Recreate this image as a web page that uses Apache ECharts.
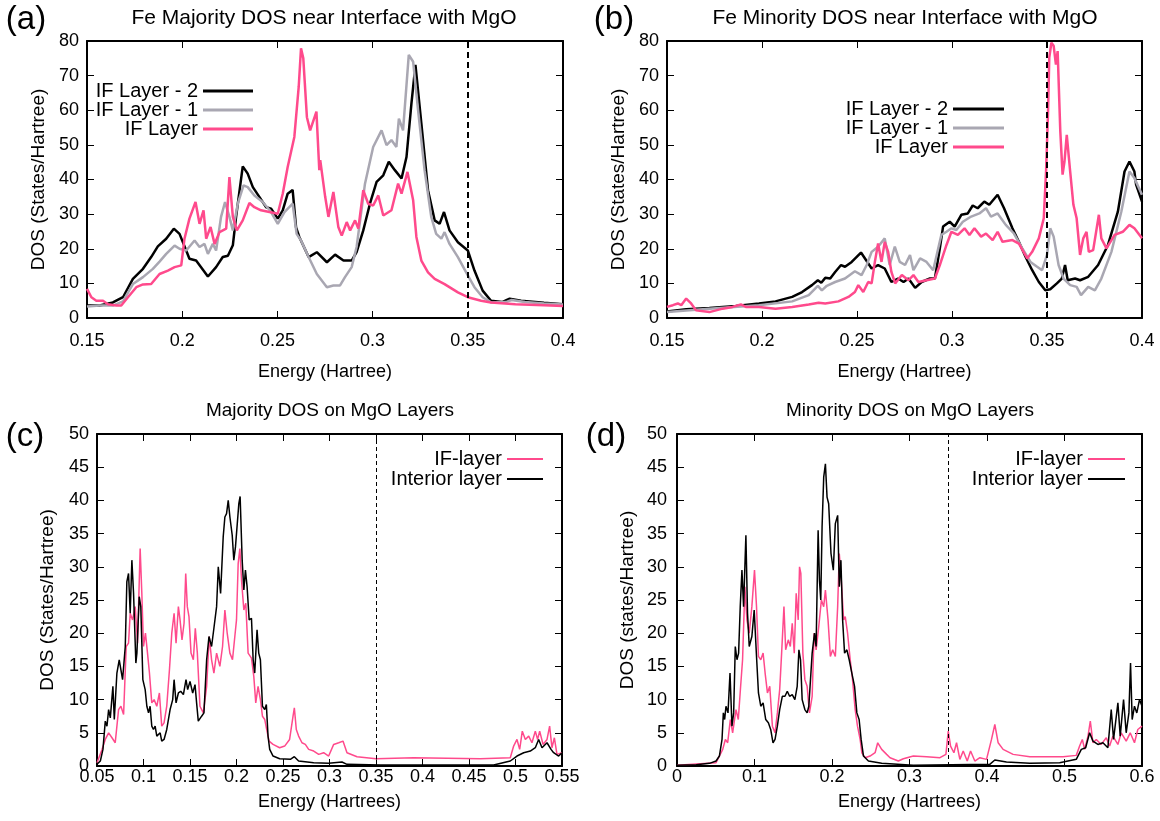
<!DOCTYPE html>
<html>
<head>
<meta charset="utf-8">
<script src="https://cdn.jsdelivr.net/npm/echarts@6/dist/echarts.min.js"></script>
<style>
html,body{margin:0;padding:0;background:#fff}
#chart{width:1160px;height:821px}
</style>
</head>
<body>
<div id="chart"></div>
<script>
const FONT = '"Liberation Sans", Arial, Helvetica, sans-serif';

// ---- (a) Fe majority DOS near the MgO interface: [energy (Ha), DOS] ----
const feMajLayer2 = [[0.15,3.6],[0.1566,3.6],[0.1636,4.5],[0.1689,6.0],[0.1741,11.3],[0.1794,14.2],[0.1837,17.6],[0.1872,20.7],[0.1916,22.9],[0.1956,25.8],[0.1986,24.3],[0.2021,19.5],[0.2038,17.1],[0.2073,16.6],[0.2135,12.0],[0.2178,14.7],[0.2213,17.6],[0.224,18.0],[0.2266,21.0],[0.2283,29.2],[0.2318,43.8],[0.2344,41.7],[0.2371,37.8],[0.2406,34.9],[0.2441,32.0],[0.2467,31.6],[0.2502,28.7],[0.2528,31.1],[0.2554,35.9],[0.258,37.0],[0.2598,26.2],[0.2615,23.4],[0.2664,17.6],[0.2707,19.0],[0.276,16.1],[0.2803,18.3],[0.2847,16.6],[0.289,16.6],[0.2916,19.0],[0.2951,25.3],[0.2986,33.0],[0.3021,39.3],[0.3056,41.2],[0.3085,45.1],[0.3117,42.7],[0.3152,40.3],[0.3178,46.5],[0.3204,62.0],[0.3225,73.1],[0.3256,56.2],[0.3291,36.9],[0.3326,28.2],[0.3352,27.2],[0.3375,30.6],[0.3404,25.3],[0.3448,21.9],[0.35,19.5],[0.3535,13.7],[0.3578,7.9],[0.3622,5.0],[0.368,4.6],[0.372,5.6],[0.378,5.0],[0.39,4.4],[0.4,4.0]];
const feMajLayer1 = [[0.15,3.3],[0.1566,3.6],[0.1636,3.6],[0.1689,4.8],[0.1741,9.8],[0.1794,11.8],[0.1846,14.2],[0.1881,16.3],[0.1916,18.5],[0.196,20.9],[0.1986,20.0],[0.2021,19.5],[0.2065,22.4],[0.2091,20.5],[0.2117,21.4],[0.2135,18.5],[0.2161,21.4],[0.2178,19.5],[0.2204,29.2],[0.2225,33.5],[0.2248,29.2],[0.2266,25.3],[0.2292,33.0],[0.2322,38.3],[0.2344,37.8],[0.2379,35.4],[0.2423,33.5],[0.2467,30.6],[0.2502,27.2],[0.2537,30.6],[0.258,33.0],[0.2601,24.3],[0.2624,22.4],[0.2664,17.6],[0.2707,12.7],[0.276,8.9],[0.2794,9.4],[0.2829,9.4],[0.2855,11.8],[0.289,14.7],[0.2916,20.5],[0.296,38.8],[0.3003,49.4],[0.3047,54.2],[0.3073,49.9],[0.3099,51.4],[0.3125,49.4],[0.3138,57.6],[0.316,54.2],[0.319,76.0],[0.3213,74.0],[0.3239,60.0],[0.3273,42.7],[0.3308,29.2],[0.3334,24.3],[0.3361,22.9],[0.3378,24.8],[0.3404,21.4],[0.3448,17.6],[0.35,12.3],[0.3535,8.9],[0.3578,6.0],[0.3622,4.5],[0.37,4.6],[0.373,5.2],[0.38,4.6],[0.39,4.2],[0.4,3.9]];
const feMajIF = [[0.15,8.4],[0.1523,6.0],[0.1549,5.0],[0.1584,5.0],[0.161,4.0],[0.1654,3.6],[0.168,3.6],[0.1715,6.0],[0.1759,8.9],[0.1794,9.7],[0.1837,9.8],[0.1881,12.7],[0.1925,13.7],[0.196,14.7],[0.1995,15.2],[0.2012,22.9],[0.2038,28.7],[0.207,33.5],[0.2091,27.2],[0.2112,31.1],[0.2126,22.9],[0.2149,26.3],[0.217,21.4],[0.2196,24.8],[0.2231,25.8],[0.2248,40.7],[0.2266,29.2],[0.2287,25.3],[0.2318,28.2],[0.2353,33.2],[0.2379,32.0],[0.2414,31.1],[0.2458,30.6],[0.2502,30.1],[0.2528,35.9],[0.2554,43.6],[0.2589,52.3],[0.2612,66.8],[0.2624,77.9],[0.2636,75.0],[0.2655,58.0],[0.2672,54.2],[0.2705,59.6],[0.272,42.7],[0.2725,45.6],[0.2751,35.0],[0.2768,29.2],[0.2794,36.4],[0.282,26.3],[0.2838,23.8],[0.2864,27.7],[0.2882,25.3],[0.2908,28.2],[0.2925,25.8],[0.2951,36.9],[0.2977,33.0],[0.3003,32.5],[0.303,35.4],[0.3056,29.6],[0.3099,31.1],[0.3134,38.8],[0.3152,35.9],[0.3183,42.2],[0.3213,34.0],[0.323,23.4],[0.3256,16.6],[0.3291,13.2],[0.3326,11.3],[0.3378,9.8],[0.3448,7.4],[0.35,6.0],[0.357,5.0],[0.3622,4.5],[0.375,4.0],[0.39,3.7],[0.4,3.5]];

// ---- (b) Fe minority DOS near the MgO interface ----
const feMinLayer2 = [[0.15,1.9],[0.1601,2.5],[0.1723,2.9],[0.1862,3.5],[0.1984,4.2],[0.2071,4.8],[0.2159,6.1],[0.2211,7.5],[0.2263,9.5],[0.2294,10.9],[0.2312,10.2],[0.2333,11.6],[0.2359,11.4],[0.2385,13.3],[0.2416,15.3],[0.2437,14.8],[0.2472,16.2],[0.2521,18.9],[0.2542,17.2],[0.2577,14.3],[0.2611,15.3],[0.2646,14.3],[0.2681,10.4],[0.2716,11.4],[0.2745,10.4],[0.2771,11.4],[0.2806,8.7],[0.284,10.4],[0.2884,11.4],[0.291,11.4],[0.2936,20.1],[0.2953,26.4],[0.2988,27.8],[0.3014,26.4],[0.3049,29.8],[0.3083,30.2],[0.3109,32.5],[0.3135,31.7],[0.317,33.6],[0.3196,32.7],[0.324,35.6],[0.3274,31.7],[0.3318,25.9],[0.3352,22.0],[0.3387,17.7],[0.3422,13.8],[0.3457,10.4],[0.3491,8.0],[0.3517,8.3],[0.3552,10.0],[0.3578,11.4],[0.3595,15.3],[0.3609,10.9],[0.3648,11.4],[0.3674,10.9],[0.3717,11.9],[0.3769,15.3],[0.3821,21.1],[0.3873,30.7],[0.3908,42.3],[0.3934,45.2],[0.396,42.3],[0.3969,38.5],[0.4,33.6]];
const feMinLayer1 = [[0.15,1.7],[0.1601,2.2],[0.1723,2.7],[0.1984,3.7],[0.2159,4.8],[0.2246,6.6],[0.2294,9.3],[0.2315,8.0],[0.2341,9.3],[0.2385,10.4],[0.2437,11.4],[0.2489,13.5],[0.2524,12.4],[0.2551,15.3],[0.2577,19.1],[0.2611,20.6],[0.2646,23.0],[0.2672,15.3],[0.2699,20.6],[0.2725,16.2],[0.2753,15.3],[0.2779,18.2],[0.2797,13.8],[0.2832,17.2],[0.2866,16.2],[0.2901,13.8],[0.2944,24.0],[0.2971,24.9],[0.2997,25.9],[0.3023,25.4],[0.3057,27.8],[0.3101,29.3],[0.3144,30.2],[0.3179,31.7],[0.3205,29.3],[0.324,30.2],[0.3283,26.9],[0.3326,24.4],[0.337,20.1],[0.3413,16.2],[0.3448,14.8],[0.3474,13.8],[0.35,18.2],[0.3517,25.9],[0.3535,23.5],[0.3561,15.3],[0.3587,11.4],[0.3622,9.5],[0.3656,9.0],[0.3679,6.6],[0.3717,9.0],[0.3752,8.0],[0.3786,11.4],[0.3839,19.1],[0.3891,30.7],[0.3934,42.3],[0.396,40.4],[0.4,35.6]];
const feMinIF = [[0.15,3.2],[0.1531,3.7],[0.1557,4.2],[0.1575,3.7],[0.1601,5.6],[0.1627,4.2],[0.1653,2.2],[0.1723,1.7],[0.1793,2.7],[0.1845,3.2],[0.1889,3.9],[0.1915,3.2],[0.1984,3.2],[0.2071,2.7],[0.2159,3.2],[0.2246,3.9],[0.2298,4.4],[0.2333,4.2],[0.2402,4.8],[0.2455,6.1],[0.2489,7.5],[0.2507,9.5],[0.2533,7.5],[0.2559,10.4],[0.2577,10.0],[0.2594,16.2],[0.2611,21.5],[0.2629,16.2],[0.2646,22.0],[0.2664,19.1],[0.2681,13.3],[0.2701,10.0],[0.2736,12.4],[0.2771,10.9],[0.2797,12.4],[0.2823,10.4],[0.2866,10.9],[0.291,11.4],[0.2936,15.3],[0.2971,21.1],[0.2997,24.9],[0.3031,24.0],[0.3066,25.9],[0.3092,24.0],[0.3118,25.9],[0.3153,23.5],[0.3179,24.4],[0.3214,22.5],[0.324,24.9],[0.3266,22.0],[0.3318,22.5],[0.3352,21.5],[0.3396,17.2],[0.3422,19.1],[0.3457,23.0],[0.3483,28.8],[0.3495,42.3],[0.3505,58.7],[0.3512,75.2],[0.3523,79.5],[0.3535,78.6],[0.3547,73.2],[0.3556,77.1],[0.357,53.9],[0.3582,41.4],[0.3592,45.2],[0.3604,52.9],[0.3622,42.3],[0.3639,32.7],[0.3656,28.8],[0.3674,18.2],[0.3691,23.0],[0.3708,24.9],[0.372,19.1],[0.3743,19.6],[0.3773,29.8],[0.3786,23.0],[0.3813,20.1],[0.3856,24.0],[0.3899,24.9],[0.3934,26.9],[0.396,25.9],[0.4,23.0]];

// ---- (c) majority DOS on the MgO layers ----
const mgoMajIF = [[0.05,0.5],[0.0554,2.5],[0.0589,4.0],[0.0625,5.0],[0.0661,4.25],[0.0696,3.5],[0.0732,8.5],[0.0757,9.0],[0.0786,7.75],[0.0814,18.0],[0.0839,18.5],[0.0857,23.0],[0.0882,22.0],[0.0911,24.0],[0.0936,18.5],[0.0964,32.75],[0.0982,26.0],[0.1,18.0],[0.1021,20.0],[0.1043,17.0],[0.1064,14.0],[0.1089,9.5],[0.1114,10.0],[0.1143,9.0],[0.1171,11.0],[0.1196,6.0],[0.1221,6.5],[0.125,9.0],[0.1279,14.5],[0.1304,20.0],[0.1329,23.0],[0.135,18.5],[0.1375,24.0],[0.1393,22.0],[0.1414,19.0],[0.1436,21.5],[0.1454,29.0],[0.1471,24.0],[0.1489,22.5],[0.1511,17.0],[0.1536,16.0],[0.1557,20.75],[0.1579,17.0],[0.1607,9.0],[0.1643,8.0],[0.1679,12.0],[0.1707,19.5],[0.1732,16.0],[0.1757,14.0],[0.1786,17.0],[0.1821,15.0],[0.185,18.0],[0.1875,23.5],[0.19,20.0],[0.1929,17.0],[0.1957,16.0],[0.1982,19.5],[0.2,22.0],[0.2018,30.5],[0.2036,32.75],[0.2054,28.0],[0.2079,23.5],[0.21,24.5],[0.2125,17.0],[0.2161,16.25],[0.2186,13.5],[0.2207,9.5],[0.2232,12.0],[0.2257,10.0],[0.2279,7.5],[0.2304,7.0],[0.2321,5.75],[0.235,3.75],[0.2393,3.25],[0.2464,2.75],[0.2518,3.0],[0.2571,4.0],[0.2608,7.5],[0.2622,8.75],[0.2643,5.5],[0.2668,4.5],[0.2704,3.5],[0.274,3.25],[0.2776,2.5],[0.283,2.25],[0.2884,1.75],[0.2937,2.0],[0.2991,1.5],[0.3045,3.25],[0.3099,3.5],[0.3145,3.75],[0.3188,2.0],[0.3296,1.4],[0.35,1.1],[0.3905,1.25],[0.4622,1.1],[0.4944,1.25],[0.498,3.0],[0.5016,4.0],[0.5045,2.5],[0.5073,5.25],[0.5106,4.0],[0.5142,4.5],[0.5177,3.5],[0.5213,5.25],[0.5238,4.0],[0.526,5.25],[0.5296,3.25],[0.5339,4.0],[0.5367,6.0],[0.5392,2.75],[0.5418,4.25],[0.5446,1.75],[0.55,2.0]];
const mgoMajInterior = [[0.05,0.25],[0.0536,0.75],[0.0564,2.5],[0.0589,6.75],[0.0607,6.0],[0.0625,8.5],[0.0643,7.25],[0.0671,12.0],[0.0686,7.0],[0.0714,14.0],[0.0739,16.0],[0.0775,13.0],[0.0804,18.0],[0.0821,27.75],[0.0839,29.0],[0.0857,23.0],[0.0875,31.0],[0.0893,26.0],[0.0918,15.5],[0.0929,17.0],[0.0954,25.5],[0.0971,24.0],[0.0993,13.0],[0.1018,11.5],[0.1036,9.0],[0.1054,8.0],[0.1071,9.0],[0.1089,6.0],[0.1107,5.5],[0.1125,6.0],[0.1143,4.5],[0.1179,5.0],[0.1196,3.75],[0.1221,4.0],[0.125,5.5],[0.1286,8.5],[0.1314,10.0],[0.1329,13.0],[0.135,9.5],[0.1375,11.0],[0.14,11.25],[0.1429,10.75],[0.1457,13.0],[0.1475,11.5],[0.15,12.75],[0.1529,11.0],[0.1554,12.25],[0.1571,9.5],[0.1589,6.75],[0.1625,7.5],[0.165,8.0],[0.1679,16.0],[0.1704,19.5],[0.1732,18.0],[0.1757,20.75],[0.1786,24.0],[0.1804,30.0],[0.1829,26.0],[0.1857,34.5],[0.1875,37.5],[0.1893,38.0],[0.1911,40.0],[0.1929,37.5],[0.1954,34.75],[0.1971,31.0],[0.1989,33.0],[0.2007,33.0],[0.2025,39.5],[0.2039,40.6],[0.2061,31.0],[0.2079,26.5],[0.2096,29.5],[0.2114,27.0],[0.2136,22.0],[0.2161,22.25],[0.2179,16.0],[0.2196,14.0],[0.2221,20.5],[0.2239,17.0],[0.2257,16.0],[0.2279,9.0],[0.2304,8.5],[0.2321,9.25],[0.2339,4.5],[0.2357,2.5],[0.2393,1.5],[0.2464,1.1],[0.2579,1.0],[0.2622,1.4],[0.2668,0.75],[0.283,0.5],[0.2991,0.4],[0.3134,0.6],[0.3188,0.25],[0.3547,0.15],[0.4765,0.15],[0.4944,0.75],[0.5016,1.5],[0.5088,2.0],[0.5159,2.25],[0.5213,2.75],[0.5249,4.0],[0.5285,2.75],[0.5339,3.5],[0.5382,2.5],[0.541,2.0],[0.5464,1.5],[0.55,2.0]];

// ---- (d) minority DOS on the MgO layers ----
const mgoMinIF = [[0,0.1],[0.0504,0.5],[0.059,2.5],[0.0624,4.0],[0.0654,3.5],[0.0688,7.0],[0.0718,5.0],[0.0761,8.5],[0.0791,7.0],[0.0821,12.0],[0.0846,16.0],[0.0876,27.0],[0.0902,22.0],[0.0932,20.0],[0.0966,24.0],[0.1,29.5],[0.1026,24.0],[0.1051,16.5],[0.1081,16.0],[0.1111,17.0],[0.1137,14.0],[0.1167,11.0],[0.1197,12.0],[0.1231,6.0],[0.1265,5.0],[0.1295,8.0],[0.1325,11.5],[0.135,17.0],[0.138,24.0],[0.1402,17.5],[0.1436,19.0],[0.1462,18.0],[0.1487,21.5],[0.1513,17.0],[0.1538,26.0],[0.1564,22.0],[0.1581,30.0],[0.1598,29.0],[0.1624,17.0],[0.165,13.0],[0.1679,12.0],[0.1709,8.0],[0.1744,10.5],[0.1769,20.0],[0.1795,17.5],[0.1829,21.0],[0.1863,25.0],[0.1893,24.0],[0.1915,26.5],[0.1949,22.0],[0.1979,16.5],[0.2009,17.5],[0.2043,16.5],[0.2073,24.0],[0.2094,32.0],[0.212,28.0],[0.215,22.0],[0.2171,22.5],[0.2201,20.0],[0.2235,16.0],[0.2265,13.0],[0.2299,8.5],[0.2329,6.0],[0.2363,4.0],[0.2385,2.0],[0.2427,1.25],[0.2491,1.5],[0.2556,2.0],[0.259,3.5],[0.2641,2.5],[0.2705,1.75],[0.2749,1.25],[0.2856,0.75],[0.2921,1.1],[0.3049,1.5],[0.3221,1.4],[0.3393,1.25],[0.347,1.75],[0.35,5.25],[0.353,3.0],[0.3573,2.0],[0.3607,3.5],[0.365,1.0],[0.3693,2.25],[0.3745,0.75],[0.3788,2.25],[0.3843,0.75],[0.3908,1.25],[0.3994,1.0],[0.4058,4.0],[0.4101,6.25],[0.4144,3.5],[0.4208,2.5],[0.4337,1.75],[0.4552,1.4],[0.4981,1.4],[0.5152,1.6],[0.5195,3.0],[0.523,4.0],[0.526,2.5],[0.5303,4.5],[0.5333,6.75],[0.5367,3.5],[0.541,4.0],[0.5474,3.25],[0.5539,4.25],[0.5582,3.0],[0.5624,4.5],[0.5689,3.25],[0.5732,5.0],[0.5796,3.75],[0.5848,5.0],[0.5903,3.5],[0.5946,5.5],[0.6,6.0]];
const mgoMinInterior = [[0,0.1],[0.0248,0.2],[0.0419,0.4],[0.0504,0.75],[0.0547,1.5],[0.0581,4.0],[0.0598,8.0],[0.0615,7.0],[0.0632,9.0],[0.0658,8.0],[0.0684,14.0],[0.0709,6.0],[0.0731,8.0],[0.0752,18.0],[0.0774,16.0],[0.0795,17.0],[0.0816,24.0],[0.0838,29.5],[0.0859,24.0],[0.0889,34.75],[0.091,23.0],[0.0932,18.0],[0.0966,19.5],[0.0996,23.5],[0.1026,16.5],[0.1051,11.0],[0.1081,9.0],[0.1111,9.5],[0.1145,7.0],[0.1179,6.5],[0.1209,5.5],[0.1239,3.5],[0.1265,4.0],[0.1295,6.0],[0.1325,8.5],[0.1359,10.5],[0.1393,10.5],[0.1423,11.25],[0.1453,10.5],[0.1487,10.75],[0.1521,10.0],[0.1551,12.0],[0.1573,17.5],[0.1594,16.0],[0.1615,10.0],[0.165,8.5],[0.1679,8.0],[0.1701,9.0],[0.1722,9.0],[0.1744,17.0],[0.1774,20.0],[0.1795,18.0],[0.1821,35.5],[0.1838,28.0],[0.1855,25.0],[0.1872,36.0],[0.1893,43.5],[0.1915,45.5],[0.1936,40.5],[0.1957,39.5],[0.1987,32.0],[0.2017,29.5],[0.2043,36.5],[0.2073,37.75],[0.2094,27.0],[0.2115,31.0],[0.2137,22.0],[0.2162,17.0],[0.2192,17.5],[0.2222,16.0],[0.2256,14.0],[0.2291,12.0],[0.2321,8.0],[0.235,7.0],[0.2376,4.0],[0.2406,1.5],[0.247,0.75],[0.2641,0.4],[0.3049,0.1],[0.4036,0.25],[0.4101,0.9],[0.4251,0.6],[0.4552,0.4],[0.4938,0.5],[0.5152,1.0],[0.5217,2.5],[0.5273,2.75],[0.5324,5.0],[0.5367,3.75],[0.5431,3.25],[0.5496,3.5],[0.556,2.75],[0.5603,8.5],[0.5633,4.0],[0.5689,9.5],[0.5719,4.5],[0.5762,10.0],[0.5796,5.0],[0.5831,8.0],[0.5852,15.5],[0.5873,7.0],[0.5903,9.0],[0.5933,8.0],[0.5968,10.0],[0.6,9.0]];

// Fermi level marker (Ha) and axis ranges [min, max, step]
const fermiLevel = 0.35;
const feEnergyRange = [0.15, 0.4, 0.05];
const feDosRange = [0, 80, 10];
const mgoMajEnergyRange = [0.05, 0.55, 0.05];
const mgoMinEnergyRange = [0, 0.6, 0.1];
const mgoDosRange = [0, 50, 5];

const BLACK = '#000000';
const GRAY = '#a9a7b2';
const PINK = '#ff4a8c';

const chart = echarts.init(document.getElementById('chart'), null, {renderer: 'canvas'});

const grids = [
  {left: 87, right: 597, top: 41, bottom: 503, outerBoundsMode: 'none'},
  {left: 667, right: 18, top: 41, bottom: 503, outerBoundsMode: 'none'},
  {left: 97, right: 598, top: 434, bottom: 55, outerBoundsMode: 'none'},
  {left: 677, right: 18, top: 434, bottom: 55, outerBoundsMode: 'none'}
];

const fmt = v => String(Math.round(v * 1000) / 1000);
const xAxes = [];
const yAxes = [];

function addAxes(gi, xr, yr, xName, yName, o) {
  const tick = {show: true, inside: true, length: 7, lineStyle: {color: BLACK, width: 1}};
  const line = {show: true, onZero: false, lineStyle: {color: BLACK, width: 2}};
  const lbl = {color: BLACK, fontSize: 18, fontFamily: FONT, formatter: fmt};
  const xNameStyle = {color: BLACK, fontSize: 18, fontFamily: FONT};
  const yNameStyle = {color: BLACK, fontSize: 19, fontFamily: FONT};
  xAxes.push({type: 'value', gridIndex: gi, position: 'bottom', min: xr[0], max: xr[1], interval: xr[2],
    axisLine: line, axisTick: tick, splitLine: {show: false},
    axisLabel: Object.assign({margin: o.xMargin}, lbl),
    name: xName, nameLocation: 'middle', nameGap: o.xGap, nameTextStyle: xNameStyle});
  xAxes.push({type: 'value', gridIndex: gi, position: 'top', min: xr[0], max: xr[1], interval: xr[2],
    axisLine: line, axisTick: tick, splitLine: {show: false}, axisLabel: {show: false}});
  yAxes.push({type: 'value', gridIndex: gi, position: 'left', min: yr[0], max: yr[1], interval: yr[2],
    axisLine: line, axisTick: tick, splitLine: {show: false},
    axisLabel: Object.assign({margin: o.yMargin}, lbl),
    name: yName, nameLocation: 'middle', nameGap: o.yGap, nameTextStyle: yNameStyle});
  yAxes.push({type: 'value', gridIndex: gi, position: 'right', min: yr[0], max: yr[1], interval: yr[2],
    axisLine: line, axisTick: tick, splitLine: {show: false}, axisLabel: {show: false}});
}

addAxes(0, feEnergyRange, feDosRange, 'Energy (Hartree)', 'DOS (States/Hartree)', {xMargin: 14, xGap: 45, yMargin: 8, yGap: 39});
addAxes(1, feEnergyRange, feDosRange, 'Energy (Hartree)', 'DOS (States/Hartree)', {xMargin: 14, xGap: 45, yMargin: 8, yGap: 39});
addAxes(2, mgoMajEnergyRange, mgoDosRange, 'Energy (Hartrees)', 'DOS (States/Hartree)', {xMargin: 2, xGap: 27, yMargin: 8, yGap: 40});
addAxes(3, mgoMinEnergyRange, mgoDosRange, 'Energy (Hartrees)', 'DOS (states/Hartree)', {xMargin: 2, xGap: 27, yMargin: 10, yGap: 40});

function fermiMark(width, dash) {
  return {
    silent: true, symbol: ['none', 'none'], label: {show: false},
    lineStyle: {color: BLACK, width: width, type: dash},
    emphasis: {disabled: true},
    data: [{xAxis: fermiLevel}]
  };
}

function curve(name, gi, data, color, width, mark) {
  const s = {
    name: name, type: 'line', xAxisIndex: 2 * gi, yAxisIndex: 2 * gi,
    data: data, showSymbol: false, symbol: 'none', color: color,
    lineStyle: {color: color, width: width}, silent: true, animation: false
  };
  if (mark) s.markLine = mark;
  return s;
}

const series = [
  curve('IF Layer - 2', 0, feMajLayer2, BLACK, 2.5, fermiMark(2, [6, 4])),
  curve('IF Layer - 1', 0, feMajLayer1, GRAY, 2.5),
  curve('IF Layer', 0, feMajIF, PINK, 2.5),
  curve('IF Layer - 2', 1, feMinLayer2, BLACK, 2.5, fermiMark(2, [6, 4])),
  curve('IF Layer - 1', 1, feMinLayer1, GRAY, 2.5),
  curve('IF Layer', 1, feMinIF, PINK, 2.5),
  curve('IF-layer', 2, mgoMajIF, PINK, 1.5, fermiMark(1, [4, 3])),
  curve('Interior layer', 2, mgoMajInterior, BLACK, 1.5),
  curve('IF-layer', 3, mgoMinIF, PINK, 1.5, fermiMark(1, [4, 3])),
  curve('Interior layer', 3, mgoMinInterior, BLACK, 1.5)
];

function legendBox(names, right, top, width, height, fontSize, gap) {
  return {
    orient: 'vertical', align: 'right', right: right, top: top, padding: 0,
    itemGap: gap, itemWidth: width, itemHeight: height, icon: 'rect',
    selectedMode: false, data: names,
    textStyle: {color: BLACK, fontSize: fontSize, fontFamily: FONT}
  };
}

const feNames = ['IF Layer - 2', 'IF Layer - 1', 'IF Layer'];
const mgoNames = ['IF-layer', 'Interior layer'];

const legends = [
  legendBox(feNames, 907, 81, 50, 3, 20, -1),
  legendBox(feNames, 156, 99, 51, 3, 20, -1),
  legendBox(mgoNames, 617, 449, 36, 2, 20, 0),
  legendBox(mgoNames, 35, 449, 37, 2, 20, 0)
];

function label(text, x, y, size) {
  return {type: 'text', x: x, y: y, silent: true,
    style: {text: text, fill: BLACK, fontSize: size, fontFamily: FONT, align: 'center', verticalAlign: 'middle'}};
}

const graphics = [
  label('(a)', 26, 20, 33),
  label('Fe Majority DOS near Interface with MgO', 324, 18, 21),
  label('(b)', 614, 20, 33),
  label('Fe Minority DOS near Interface with MgO', 905, 18, 21),
  label('(c)', 25, 437, 33),
  label('Majority DOS on MgO Layers', 330, 411, 19),
  label('(d)', 606, 437, 33),
  label('Minority DOS on MgO Layers', 910, 411, 19)
];

chart.setOption({
  backgroundColor: '#ffffff',
  animation: false,
  textStyle: {fontFamily: FONT},
  grid: grids,
  xAxis: xAxes,
  yAxis: yAxes,
  legend: legends,
  graphic: graphics,
  series: series
});
</script>
</body>
</html>
